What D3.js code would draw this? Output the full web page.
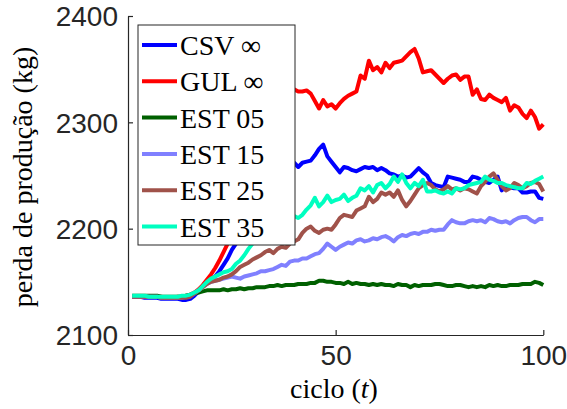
<!DOCTYPE html>
<html>
<head>
<meta charset="utf-8">
<script src="https://cdn.jsdelivr.net/npm/d3@7"></script>
<style>
  html, body { margin: 0; padding: 0; background: #fff; }
  svg { display: block; }
</style>
</head>
<body>
<svg id="chart" width="567" height="409"></svg>
<script>
// ---- data ----
const cycles = d3.range(1, 101);
const xTicks = [0, 50, 100];
const yTicks = [2100, 2200, 2300, 2400];
const seriesNames = ["CSV \u221E", "GUL \u221E", "EST 05", "EST 15", "EST 25", "EST 35"];
const seriesColors = ["#0000ff", "#ff0000", "#006000", "#8080ff", "#a0524a", "#00ffc0"];

const csv = [2136,2136,2136,2135,2135,2135,2135,2134,2134,2134,2134,2134,2133,2133,
  2134,2137,2141,2146,2150,2153,2155,2160,2166,2172,2180,2186,2193,2200,2207,2214,
  2220,2226,2232,2237,2242,2247,2251,2255,2259,2262,2258,2262,2263,2264,2269,2275,
  2279,2268,2263,2258,2253,2258,2257,2255,2254,2256,2258,2257,2258,2255,2257,2255,
  2252,2251,2249,2250,2248,2249,2253,2257,2253,2250,2243,2241,2240,2239,2249,2248,
  2247,2246,2244,2244,2249,2248,2246,2244,2243,2246,2249,2236,2240,2239,2238,2238,
  2234,2234,2235,2235,2229,2228];
const gul = [2136,2136,2136,2136,2136,2136,2136,2136,2135,2135,2135,2136,2136,2137,
  2138,2140,2143,2147,2152,2157,2163,2170,2178,2186,2195,2205,2215,2226,2236,2246,
  2256,2266,2275,2285,2294,2303,2312,2320,2326,2331,2329,2329,2330,2327,2320,2313,
  2321,2315,2317,2313,2318,2322,2325,2327,2329,2344,2341,2358,2349,2352,2347,2356,
  2351,2356,2357,2358,2362,2366,2369,2360,2347,2348,2349,2345,2341,2337,2341,2344,
  2345,2340,2343,2343,2326,2331,2322,2321,2326,2323,2321,2319,2323,2311,2316,2314,
  2308,2304,2311,2305,2294,2298];
const est05 = [2137,2137,2137,2137,2137,2137,2137,2136,2136,2136,2136,2136,2136,2137,
  2138,2139,2140,2141,2142,2142,2142,2142,2143,2142,2143,2143,2144,2143,2144,2144,
  2145,2145,2145,2146,2146,2147,2146,2147,2147,2147,2148,2148,2148,2149,2149,2151,
  2151,2150,2150,2149,2149,2148,2150,2148,2149,2148,2148,2147,2148,2147,2148,2147,
  2147,2146,2148,2147,2147,2145,2147,2146,2147,2147,2147,2148,2148,2147,2146,2146,
  2147,2147,2146,2145,2146,2145,2146,2145,2147,2146,2147,2146,2146,2147,2147,2147,
  2148,2148,2148,2150,2149,2147];
const est15 = [2136,2136,2136,2136,2136,2136,2136,2135,2135,2135,2135,2135,2135,2136,
  2137,2139,2142,2145,2148,2150,2151,2152,2153,2154,2155,2154,2153,2155,2156,2157,
  2158,2160,2160,2161,2162,2164,2166,2165,2169,2170,2170,2172,2172,2174,2176,2177,
  2181,2186,2183,2180,2183,2185,2187,2186,2189,2190,2188,2189,2191,2190,2192,2193,
  2191,2188,2192,2194,2193,2195,2196,2195,2197,2197,2199,2198,2199,2199,2204,2208,
  2206,2205,2205,2207,2208,2207,2208,2206,2210,2209,2207,2206,2207,2205,2208,2210,
  2211,2211,2208,2206,2209,2209];
const est25 = [2136,2136,2136,2136,2136,2136,2136,2135,2135,2135,2135,2135,2135,2135,
  2136,2139,2142,2145,2148,2150,2151,2152,2154,2155,2157,2160,2164,2166,2168,2171,
  2173,2175,2178,2180,2177,2181,2183,2182,2186,2188,2190,2196,2200,2202,2198,2196,
  2199,2200,2199,2204,2210,2213,2212,2211,2217,2219,2221,2230,2225,2228,2234,2232,
  2234,2230,2236,2227,2221,2226,2232,2238,2241,2243,2241,2237,2235,2237,2240,2237,
  2238,2236,2238,2237,2235,2233,2240,2244,2249,2252,2246,2240,2236,2238,2243,2241,
  2238,2240,2243,2244,2242,2235];
const est35 = [2137,2137,2137,2137,2136,2136,2136,2136,2136,2136,2136,2136,2137,2137,
  2138,2140,2142,2146,2150,2153,2155,2157,2159,2160,2162,2167,2170,2175,2181,2186,
  2190,2192,2195,2199,2202,2205,2207,2210,2214,2212,2210,2213,2218,2222,2229,2221,
  2225,2231,2225,2227,2228,2232,2226,2229,2231,2238,2236,2240,2234,2241,2243,2238,
  2242,2249,2244,2251,2243,2238,2243,2240,2246,2235,2235,2236,2234,2233,2235,2233,
  2238,2237,2238,2241,2242,2243,2244,2249,2246,2245,2243,2243,2241,2240,2239,2238,
  2238,2243,2242,2245,2247,2249];

const seriesValues = [csv, gul, est05, est15, est25, est35];

// ---- layout ----
const svg = d3.select("#chart");
const axisColor = "#262626";
const serif = "'Liberation Serif', 'Times New Roman', serif";
const x = d3.scaleLinear().domain([0, 100]).range([128, 543.3]);
const y = d3.scaleLinear().domain([2100, 2400]).range([335, 16]);

// lines
const line = d3.line().x((d, i) => x(cycles[i])).y(d => y(d));
const gLines = svg.append("g");
seriesValues.forEach((vals, k) => {
  gLines.append("path")
    .datum(vals)
    .attr("fill", "none")
    .attr("stroke", seriesColors[k])
    .attr("stroke-width", 4)
    .attr("stroke-linejoin", "round")
    .attr("d", line);
});

// axes
const xAxis = d3.axisBottom(x).tickValues(xTicks).tickFormat(d3.format("d"))
  .tickSizeInner(-5).tickSizeOuter(0);
const yAxis = d3.axisLeft(y).tickValues(yTicks).tickFormat(d3.format("d"))
  .tickSizeInner(-5).tickSizeOuter(0);

const gx = svg.append("g").attr("transform", "translate(0,335)").call(xAxis);
const gy = svg.append("g").attr("transform", "translate(128,0)").call(yAxis);

[gx, gy].forEach(g => {
  g.select(".domain").attr("stroke", axisColor).attr("stroke-width", 1.2);
  g.selectAll(".tick line").attr("stroke", axisColor).attr("stroke-width", 1.2);
  g.selectAll(".tick text")
    .attr("fill", axisColor)
    .style("font-family", "'Liberation Sans', Arial, sans-serif")
    .style("font-size", "28px");
});
gx.selectAll(".tick text").attr("dy", "0.71em").attr("y", 10);
gy.selectAll(".tick text").attr("dy", "0.35em").attr("x", -10);

// axis labels
svg.append("text")
  .attr("x", 334).attr("y", 398)
  .attr("text-anchor", "middle")
  .style("font-family", serif)
  .style("font-size", "28px")
  .attr("fill", "#000")
  .html('ciclo (<tspan font-style="italic">t</tspan>)');

svg.append("text")
  .attr("transform", "translate(32,177) rotate(-90)")
  .attr("text-anchor", "middle")
  .style("font-family", serif)
  .style("font-size", "28px")
  .attr("fill", "#000")
  .text("perda de produção (kg)");

// legend
const leg = svg.append("g");
leg.append("rect")
  .attr("x", 138).attr("y", 25).attr("width", 157).attr("height", 220)
  .attr("fill", "#fff").attr("stroke", axisColor).attr("stroke-width", 1);
seriesNames.forEach((name, k) => {
  const ly = 45 + k * 36.3;
  leg.append("line")
    .attr("x1", 142).attr("x2", 177).attr("y1", ly).attr("y2", ly)
    .attr("stroke", seriesColors[k]).attr("stroke-width", 4);
  leg.append("text")
    .attr("x", 180).attr("y", ly + 10)
    .style("font-family", serif)
    .style("font-size", "28px")
    .attr("fill", "#000")
    .text(name);
});
</script>
</body>
</html>
